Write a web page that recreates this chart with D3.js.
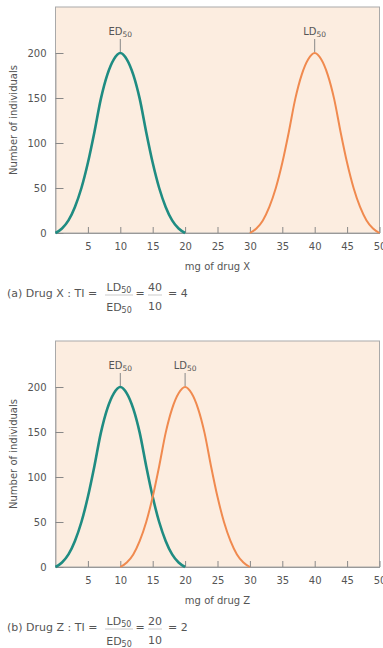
<!DOCTYPE html>
<html>
<head>
<meta charset="utf-8">
<script src="https://cdn.jsdelivr.net/npm/d3@7"></script>
<style>
  body { margin: 0; background: #fff; }
  svg text { font-family: "DejaVu Sans", sans-serif; fill: #555; }
</style>
</head>
<body>
<svg id="chart" width="383" height="648"></svg>
<script>
// values
var edDoses = [0,1,2,3,4,5,6,7,8,9,10,11,12,13,14,15,16,17,18,19,20];
var bellCounts = [0,5,14,29,50,78,112,149,176,193,200,193,176,149,112,78,50,29,14,5,0];
var ldDosesX = [30,31,32,33,34,35,36,37,38,39,40,41,42,43,44,45,46,47,48,49,50];
var ldDosesZ = [10,11,12,13,14,15,16,17,18,19,20,21,22,23,24,25,26,27,28,29,30];
var xTicks = [5,10,15,20,25,30,35,40,45,50];
var yTicks = [0,50,100,150,200];
var panels = [
  {key:"a", drug:"X", ldDoses:ldDosesX, ld:40, ed:10, ti:4},
  {key:"b", drug:"Z", ldDoses:ldDosesZ, ld:20, ed:10, ti:2}
];

var teal = "#1f8c82";
var orange = "#f08a4f";
var panelStep = 334;

var svg = d3.select("#chart");

var x = d3.scaleLinear().domain([0,50]).range([55.5,379.5]);
var y = d3.scaleLinear().domain([0,200]).range([233,53]);

var line = d3.line()
  .x(function(d){ return x(d[0]); })
  .y(function(d){ return y(d[1]); })
  .curve(d3.curveMonotoneX);

function peakLabel(g, dose, name){
  g.append("line").attr("x1",x(dose)).attr("x2",x(dose))
    .attr("y1",39).attr("y2",52).attr("stroke","#888").attr("stroke-width",1);
  var t = g.append("text").attr("x",x(dose)).attr("y",35)
    .attr("text-anchor","middle").style("font-size","10px");
  t.append("tspan").text(name);
  t.append("tspan").attr("dy",2).style("font-size","7.5px").text("50");
}

function subText(g, xPos, yPos, base){
  var t = g.append("text").attr("x",xPos).attr("y",yPos)
    .attr("text-anchor","middle").style("font-size","11px");
  t.append("tspan").text(base);
  t.append("tspan").attr("dy",2).style("font-size","8px").text("50");
}

panels.forEach(function(p, i){
  var g = svg.append("g").attr("transform","translate(0,"+(i*panelStep)+")");

  // plot background + frame
  g.append("rect").attr("x",x(0)).attr("y",7)
    .attr("width",x(50)-x(0)).attr("height",y(0)-7)
    .attr("fill","#fcede0").attr("stroke","#a9a9a9").attr("stroke-width",1);

  // x ticks (inward) and labels
  var xAxis = d3.axisBottom(x).tickValues(xTicks).tickSizeInner(-6).tickSizeOuter(0).tickPadding(10);
  var xg = g.append("g").attr("transform","translate(0,"+y(0)+")").call(xAxis);
  xg.select(".domain").attr("stroke","#999");
  xg.selectAll(".tick line").attr("stroke","#888");
  xg.selectAll(".tick text").style("font-size","10px").attr("fill","#555")
    .style("font-family","DejaVu Sans, sans-serif");

  // y ticks (inward) and labels
  var yAxis = d3.axisLeft(y).tickValues(yTicks).tickSizeInner(-8).tickSizeOuter(0).tickPadding(9);
  var yg = g.append("g").attr("transform","translate("+x(0)+",0)").call(yAxis);
  yg.select(".domain").attr("stroke","#a9a9a9");
  yg.selectAll(".tick line").attr("stroke","#888");
  yg.selectAll(".tick text").style("font-size","10px").attr("fill","#555")
    .style("font-family","DejaVu Sans, sans-serif");

  // axis titles
  g.append("text").attr("transform","translate(17,120) rotate(-90)")
    .attr("text-anchor","middle").style("font-size","10px").text("Number of individuals");
  g.append("text").attr("x",(x(0)+x(50))/2).attr("y",270)
    .attr("text-anchor","middle").style("font-size","10px").text("mg of drug "+p.drug);

  // curves
  var edPts = edDoses.map(function(d,k){ return [d, bellCounts[k]]; });
  var ldPts = p.ldDoses.map(function(d,k){ return [d, bellCounts[k]]; });
  g.append("path").attr("d",line(edPts)).attr("fill","none")
    .attr("stroke",teal).attr("stroke-width",2.6);
  g.append("path").attr("d",line(ldPts)).attr("fill","none")
    .attr("stroke",orange).attr("stroke-width",2);

  peakLabel(g, p.ed, "ED");
  peakLabel(g, p.ld, "LD");

  // therapeutic index formula
  g.append("text").attr("x",7).attr("y",297).style("font-size","11px")
    .text("("+p.key+") Drug "+p.drug+" : TI =");
  subText(g, 119, 291, "LD");
  subText(g, 119, 311, "ED");
  g.append("line").attr("x1",105).attr("x2",133).attr("y1",295).attr("y2",295)
    .attr("stroke","#aaa").attr("stroke-width",0.6);
  g.append("text").attr("x",140).attr("y",297).attr("text-anchor","middle")
    .style("font-size","11px").text("=");
  g.append("text").attr("x",155).attr("y",291).attr("text-anchor","middle")
    .style("font-size","11px").text(p.ld);
  g.append("text").attr("x",155).attr("y",310).attr("text-anchor","middle")
    .style("font-size","11px").text(p.ed);
  g.append("line").attr("x1",148).attr("x2",162).attr("y1",295).attr("y2",295)
    .attr("stroke","#aaa").attr("stroke-width",0.6);
  g.append("text").attr("x",168).attr("y",297)
    .style("font-size","11px").text("= "+p.ti);
});
</script>
</body>
</html>
